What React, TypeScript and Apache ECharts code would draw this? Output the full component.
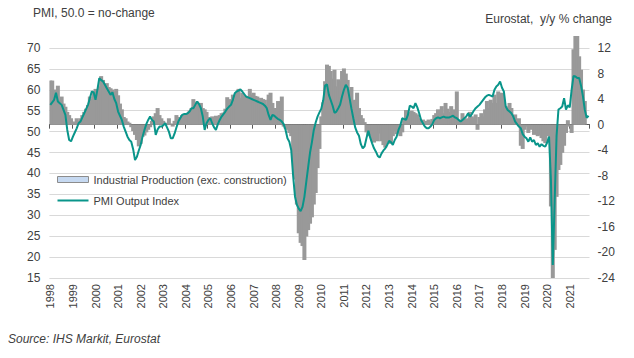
import React, { useEffect, useRef } from "react";
import * as echarts from "echarts";

const FONT = "'Liberation Sans', Arial, sans-serif";

const startYear = 1998;
const endYear = 2021;
const lastMonth = 11; // Nov 2021

const leftTicks = [15, 20, 25, 30, 35, 40, 45, 50, 55, 60, 65, 70];
const rightTicks = [-24, -20, -16, -12, -8, -4, 0, 4, 8, 12];

// PMI Output Index (monthly, Jan 1998 – Nov 2021)
const pmiOutput = [
  56.4, 57.0, 57.6, 59.3, 57.2, 56.8, 56.4, 55.2, 54.0, 50.4, 48.0, 47.7, // 1998
  48.8, 49.8, 50.8, 52.0, 52.4, 53.4, 54.4, 55.4, 56.4, 58.0, 59.6, 59.4, // 1999
  57.6, 60.0, 62.8, 62.3, 62.0, 61.2, 60.4, 59.6, 58.8, 59.4, 57.8, 56.8, // 2000
  54.8, 53.8, 52.8, 51.2, 50.0, 48.8, 48.0, 47.6, 45.8, 43.2, 44.0, 45.5, // 2001
  46.8, 48.8, 50.4, 51.8, 52.8, 53.6, 52.8, 52.4, 49.2, 50.5, 51.2, 51.2, // 2002
  51.5, 52.0, 51.0, 50.0, 48.4, 48.4, 49.5, 51.0, 52.4, 53.2, 54.0, 54.2, // 2003
  54.2, 54.4, 54.8, 55.6, 55.6, 56.4, 57.2, 56.6, 55.6, 53.6, 50.4, 52.0, // 2004
  52.8, 53.2, 52.0, 51.0, 50.4, 51.8, 52.8, 53.6, 54.2, 54.8, 55.5, 56.0, // 2005
  56.4, 57.6, 59.2, 59.6, 59.8, 60.1, 59.6, 59.0, 58.4, 58.2, 58.0, 57.8, // 2006
  57.6, 57.4, 57.2, 57.0, 56.8, 56.6, 56.2, 55.6, 54.0, 52.8, 54.0, 53.8, // 2007
  53.4, 53.0, 52.8, 52.4, 51.8, 50.4, 48.4, 47.6, 45.6, 39.5, 34.5, 32.5, // 2008
  31.6, 31.0, 32.0, 34.4, 38.0, 41.5, 45.0, 47.5, 50.4, 52.2, 53.6, 54.6, // 2009
  55.5, 57.5, 61.0, 61.3, 58.8, 57.5, 56.2, 54.5, 54.8, 55.6, 56.5, 58.4, // 2010
  60.0, 61.2, 60.5, 58.0, 55.5, 53.2, 51.0, 49.8, 49.0, 47.0, 46.0, 46.5, // 2011
  48.5, 50.2, 48.5, 47.2, 46.0, 45.2, 44.2, 43.8, 44.8, 45.5, 46.0, 46.8, // 2012
  47.8, 47.5, 46.8, 48.0, 48.8, 50.4, 51.5, 53.2, 53.0, 52.8, 54.0, 56.2, // 2013
  56.0, 55.6, 56.8, 55.8, 54.4, 52.8, 52.0, 51.2, 50.8, 50.8, 51.2, 51.8, // 2014
  52.8, 53.2, 53.4, 53.2, 53.4, 53.6, 53.4, 53.4, 53.4, 53.6, 53.8, 53.4, // 2015
  53.2, 52.8, 52.4, 52.8, 53.2, 53.6, 54.4, 53.6, 54.2, 55.0, 55.6, 56.0, // 2016
  56.4, 57.0, 57.6, 58.2, 58.6, 58.8, 58.6, 58.4, 60.0, 60.8, 61.2, 62.0, // 2017
  60.5, 59.6, 56.0, 55.2, 54.8, 54.4, 53.6, 52.4, 51.8, 51.2, 50.8, 49.4, // 2018
  48.8, 48.4, 47.6, 48.6, 47.6, 48.0, 46.8, 47.2, 46.4, 47.0, 46.6, 46.4, // 2019
  47.4, 48.8, 38.5, 18.1, 33.6, 49.0, 55.3, 55.6, 56.0, 58.0, 55.3, 56.3, // 2020
  55.8, 60.0, 63.3, 63.2, 62.8, 62.8, 61.0, 58.5, 55.2, 53.3, 53.8, // 2021
];

// Industrial Production (exc. construction), y/y % (Jan 1998 – Sep 2021)
const industrialProduction = [
  6.9, 6.9, 5.5, 5.4, 6.1, 3.9, 4.4, 3.3, 2.8, 2.0, 1.5, 1.0, // 1998
  0.5, 0.3, 1.0, 0.6, 1.0, 1.5, 2.0, 2.5, 3.1, 4.4, 4.0, 5.2, // 1999
  5.6, 5.0, 6.0, 7.6, 7.0, 6.2, 6.5, 5.9, 5.7, 5.5, 5.2, 5.6, // 2000
  4.6, 3.3, 2.4, 1.2, 1.0, 0.5, 0.3, -0.4, -1.0, -1.6, -2.4, -3.4, // 2001
  -3.0, -1.9, -1.7, -1.2, -0.8, -0.4, 0.6, 1.3, 1.8, 2.6, 1.5, 1.0, // 2002
  0.6, 0.0, 0.3, 1.0, 0.2, -0.3, 0.6, 1.5, 1.2, 1.0, 1.5, 1.6, // 2003
  1.5, 1.8, 2.2, 2.6, 4.0, 3.3, 3.6, 3.2, 3.4, 2.6, 2.4, 2.0, // 2004
  1.2, 1.0, 1.3, 1.0, 1.4, 1.2, 1.5, 1.8, 1.9, 2.5, 4.3, 3.8, // 2005
  4.0, 4.7, 3.9, 5.0, 5.6, 4.2, 5.0, 4.6, 3.9, 4.4, 5.6, 4.7, // 2006
  5.0, 4.5, 4.4, 3.7, 4.2, 4.0, 3.9, 3.2, 4.7, 5.0, 3.4, 2.6, // 2007
  2.6, 3.7, 2.1, 4.4, -0.3, -0.6, -0.8, -1.3, -1.8, -5.5, -8.6, -12.5, // 2008
  -17.0, -18.5, -19.0, -21.2, -17.5, -16.5, -15.5, -14.5, -12.5, -10.7, -6.8, -3.8, // 2009
  1.3, 3.5, 6.8, 9.4, 9.2, 8.4, 7.2, 8.6, 6.0, 7.1, 6.8, 8.4, // 2010
  8.8, 8.0, 7.0, 5.5, 5.9, 3.8, 3.9, 5.0, 2.6, 1.5, 1.0, 0.4, // 2011
  -1.2, -1.8, -1.6, -2.4, -2.8, -2.2, -2.6, -1.4, -2.6, -3.2, -3.6, -2.8, // 2012
  -2.6, -3.0, -1.8, -1.0, -1.5, -0.6, -1.8, -1.2, 0.8, 2.3, 2.0, 1.8, // 2013
  2.2, 2.0, 1.8, 1.6, 1.0, 0.5, 0.8, 0.3, 0.6, 0.8, 0.5, 0.9, // 2014
  1.5, 1.8, 2.4, 1.2, 2.9, 1.8, 3.4, 2.5, 2.0, 2.9, 2.4, 1.6, // 2015
  5.2, 0.8, 0.5, 1.8, 1.0, 0.8, 1.0, 2.0, 1.3, 1.0, 1.6, -0.8, // 2016
  1.2, 1.8, 1.3, 2.4, 3.7, 2.6, 3.9, 3.4, 4.7, 3.4, 5.2, 4.4, // 2017
  5.0, 3.7, 2.9, 2.6, 3.4, 2.6, 0.8, 1.6, 0.5, 1.0, -3.3, -3.8, // 2018
  -0.8, -0.3, -1.3, -0.8, -0.6, -1.6, -1.4, -1.8, -1.6, -2.1, -2.6, -2.9, // 2019
  -1.8, -0.5, -12.8, -28.0, -19.6, -11.3, -7.1, -6.3, -4.4, -3.3, -1.3, 0.7, // 2020
  -0.3, -1.3, 11.8, 39.3, 20.5, 10.7, 8.6, 5.5, 3.7, // 2021
];

const IP_NAME = "Industrial Production (exc. construction)";
const PMI_NAME = "PMI Output Index";

const months: string[] = [];
for (let y = startYear; y <= endYear; y++) {
  for (let m = 1; m <= 12; m++) {
    if (y === endYear && m > lastMonth) break;
    months.push(`${y}-${String(m).padStart(2, "0")}`);
  }
}

const TEAL = "#09958a";
const BAR_GREY = "#999999";

export default function App() {
  const ref = useRef<HTMLDivElement>(null);
  useEffect(() => {
    if (!ref.current) return;
    const chart = echarts.init(ref.current, undefined, { renderer: "svg" });
    const gridTop = 36;
    const gridBottom = 80;
    const plotH = 358 - gridTop - gridBottom;
    const tickSpanPx = 230;
    const leftMin = leftTicks[0];
    const leftTop = leftTicks[leftTicks.length - 1];
    const rightMin = rightTicks[0];
    const rightTop = rightTicks[rightTicks.length - 1];
    const leftMax = leftMin + ((leftTop - leftMin) * plotH) / tickSpanPx;
    const rightMax = rightMin + ((rightTop - rightMin) * plotH) / tickSpanPx;

    chart.setOption({
      animation: false,
      backgroundColor: "#ffffff",
      grid: { left: 49.4, right: 44.5, top: gridTop, bottom: gridBottom, containLabel: false },
      graphic: [
        {
          type: "text",
          left: 33,
          top: 7,
          style: { text: "PMI, 50.0 = no-change", font: `12px ${FONT}`, fill: "#404040" },
        },
        {
          type: "text",
          right: 22,
          top: 13,
          style: { text: "Eurostat,  y/y % change", font: `12px ${FONT}`, fill: "#404040" },
        },
        {
          type: "text",
          left: 8,
          top: 333,
          style: { text: "Source: IHS Markit, Eurostat", font: `italic 12px ${FONT}`, fill: "#404040" },
        },
      ],
      legend: {
        orient: "vertical",
        left: 57,
        top: 174,
        itemWidth: 31,
        itemHeight: 6,
        itemGap: 10,
        padding: 0,
        textStyle: { fontSize: 11, color: "#404040", fontFamily: FONT },
        data: [
          {
            name: IP_NAME,
            icon: "rect",
            itemStyle: { color: "#c6d9f1", borderColor: "#8c8c8c", borderWidth: 1 },
          },
          {
            name: PMI_NAME,
            icon: "path://M0,0H31V2H0Z",
            itemStyle: { color: TEAL, borderWidth: 0 },
          },
        ],
      },
      xAxis: {
        type: "category",
        data: months,
        boundaryGap: true,
        axisLine: { show: true, lineStyle: { color: "#595959", width: 1 } },
        axisTick: {
          show: true,
          interval: (i: number) => i % 12 === 0,
          length: 4,
          lineStyle: { color: "#595959" },
        },
        axisLabel: {
          interval: (i: number) => i % 12 === 0,
          formatter: (v: string) => v.slice(0, 4),
          rotate: 90,
          margin: 6,
          fontSize: 11,
          color: "#404040",
          fontFamily: FONT,
        },
        splitLine: { show: false },
      },
      yAxis: [
        {
          type: "value",
          min: leftMin,
          max: leftMax,
          interval: 5,
          position: "left",
          axisLine: { show: false },
          axisTick: { show: false },
          axisLabel: {
            formatter: (v: number) => (leftTicks.includes(Math.round(v * 1000) / 1000) ? String(v) : ""),
            showMaxLabel: false,
            margin: 9,
            fontSize: 12,
            color: "#404040",
            fontFamily: FONT,
          },
          splitLine: { show: true, showMaxLine: false, lineStyle: { color: "#d9d9d9", width: 1 } },
        },
        {
          type: "value",
          min: rightMin,
          max: rightMax,
          interval: 4,
          position: "right",
          axisLine: { show: false },
          axisTick: { show: false },
          axisLabel: {
            formatter: (v: number) => (rightTicks.includes(Math.round(v * 1000) / 1000) ? String(v) : ""),
            showMaxLabel: false,
            margin: 8,
            fontSize: 12,
            color: "#404040",
            fontFamily: FONT,
          },
          splitLine: { show: false },
        },
      ],
      series: [
        {
          name: IP_NAME,
          type: "bar",
          yAxisIndex: 1,
          data: industrialProduction,
          barWidth: 4,
          large: false,
          itemStyle: { color: BAR_GREY },
          clip: true,
        },
        {
          name: PMI_NAME,
          type: "line",
          yAxisIndex: 0,
          data: pmiOutput,
          symbol: "none",
          showSymbol: false,
          lineStyle: { color: TEAL, width: 2 },
          itemStyle: { color: TEAL },
        },
      ],
    });
    return () => chart.dispose();
  }, []);
  return <div ref={ref} style={{ width: 634, height: 358, margin: -8 }} />;
}
